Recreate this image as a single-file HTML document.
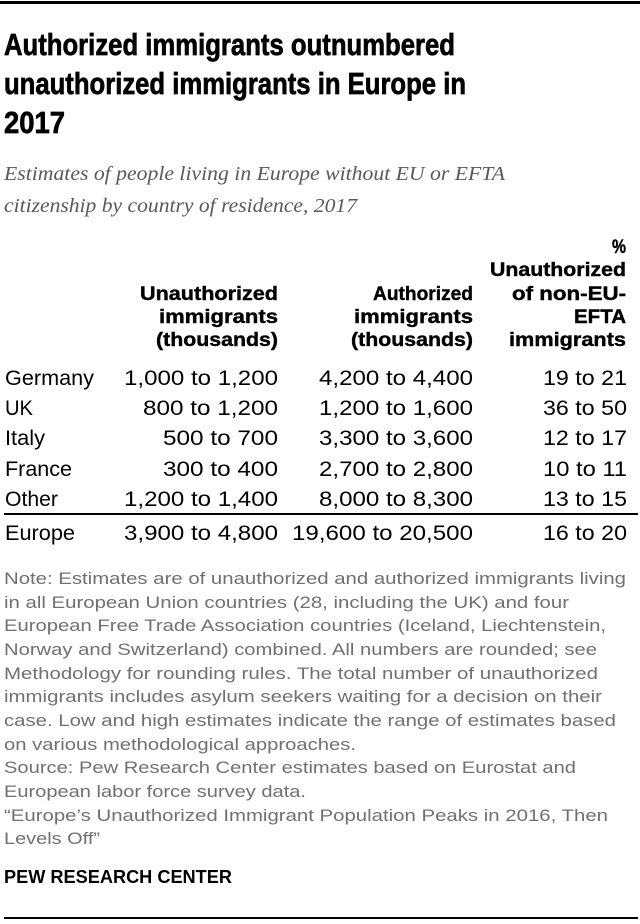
<!DOCTYPE html>
<html><head><meta charset="utf-8"><style>
html,body{margin:0;padding:0;background:#fff;}
svg{display:block;}
.t{font-family:"Liberation Sans",sans-serif;font-weight:bold;font-size:31px;fill:#000;stroke:#000;stroke-width:0.7;}
.s{font-family:"Liberation Serif",serif;font-style:italic;font-size:20px;fill:#595959;}
.h{font-family:"Liberation Sans",sans-serif;font-weight:bold;font-size:19px;fill:#000;stroke:#000;stroke-width:0.4;}
.d{font-family:"Liberation Sans",sans-serif;font-size:21px;fill:#000;}
.n{font-family:"Liberation Sans",sans-serif;font-size:17px;fill:#707070;}
.p{font-family:"Liberation Sans",sans-serif;font-weight:bold;font-size:18px;fill:#000;}
</style></head><body>
<svg width="640" height="924" viewBox="0 0 640 924" xmlns="http://www.w3.org/2000/svg">
<rect x="0" y="1" width="640" height="3" fill="#000"/>
<text class="t" x="4" y="55" textLength="451" lengthAdjust="spacingAndGlyphs">Authorized immigrants outnumbered</text>
<text class="t" x="4" y="94" textLength="462" lengthAdjust="spacingAndGlyphs">unauthorized immigrants in Europe in</text>
<text class="t" x="4" y="133" textLength="61" lengthAdjust="spacingAndGlyphs">2017</text>
<text class="s" x="4" y="180" textLength="501" lengthAdjust="spacingAndGlyphs">Estimates of people living in Europe without EU or EFTA</text>
<text class="s" x="4" y="212" textLength="353" lengthAdjust="spacingAndGlyphs">citizenship by country of residence, 2017</text>

<g class="h" text-anchor="end">
<text x="626" y="253" textLength="14" lengthAdjust="spacingAndGlyphs">%</text>
<text x="626" y="276" textLength="136" lengthAdjust="spacingAndGlyphs">Unauthorized</text>
<text x="626" y="300" textLength="114" lengthAdjust="spacingAndGlyphs">of non-EU-</text>
<text x="626" y="323" textLength="52" lengthAdjust="spacingAndGlyphs">EFTA</text>
<text x="626" y="346" textLength="117" lengthAdjust="spacingAndGlyphs">immigrants</text>
<text x="278" y="300" textLength="138" lengthAdjust="spacingAndGlyphs">Unauthorized</text>
<text x="278" y="323" textLength="119" lengthAdjust="spacingAndGlyphs">immigrants</text>
<text x="278" y="346" textLength="122" lengthAdjust="spacingAndGlyphs">(thousands)</text>
<text x="473" y="300" textLength="100" lengthAdjust="spacingAndGlyphs">Authorized</text>
<text x="473" y="323" textLength="119" lengthAdjust="spacingAndGlyphs">immigrants</text>
<text x="473" y="346" textLength="122" lengthAdjust="spacingAndGlyphs">(thousands)</text>
</g>

<g class="d">
<text x="5" y="385" textLength="89" lengthAdjust="spacingAndGlyphs">Germany</text>
<text x="5" y="415" textLength="28" lengthAdjust="spacingAndGlyphs">UK</text>
<text x="5" y="445" textLength="40" lengthAdjust="spacingAndGlyphs">Italy</text>
<text x="5" y="476" textLength="67" lengthAdjust="spacingAndGlyphs">France</text>
<text x="5" y="506" textLength="53" lengthAdjust="spacingAndGlyphs">Other</text>
<text x="5" y="540" textLength="70" lengthAdjust="spacingAndGlyphs">Europe</text>
</g>
<g class="d" text-anchor="end">
<text x="278" y="385" textLength="154" lengthAdjust="spacingAndGlyphs">1,000 to 1,200</text>
<text x="278" y="415" textLength="135" lengthAdjust="spacingAndGlyphs">800 to 1,200</text>
<text x="278" y="445" textLength="115" lengthAdjust="spacingAndGlyphs">500 to 700</text>
<text x="278" y="476" textLength="115" lengthAdjust="spacingAndGlyphs">300 to 400</text>
<text x="278" y="506" textLength="154" lengthAdjust="spacingAndGlyphs">1,200 to 1,400</text>
<text x="278" y="540" textLength="154" lengthAdjust="spacingAndGlyphs">3,900 to 4,800</text>
<text x="473" y="385" textLength="154" lengthAdjust="spacingAndGlyphs">4,200 to 4,400</text>
<text x="473" y="415" textLength="154" lengthAdjust="spacingAndGlyphs">1,200 to 1,600</text>
<text x="473" y="445" textLength="154" lengthAdjust="spacingAndGlyphs">3,300 to 3,600</text>
<text x="473" y="476" textLength="154" lengthAdjust="spacingAndGlyphs">2,700 to 2,800</text>
<text x="473" y="506" textLength="154" lengthAdjust="spacingAndGlyphs">8,000 to 8,300</text>
<text x="473" y="540" textLength="181" lengthAdjust="spacingAndGlyphs">19,600 to 20,500</text>
<text x="627" y="385" textLength="84" lengthAdjust="spacingAndGlyphs">19 to 21</text>
<text x="627" y="415" textLength="84" lengthAdjust="spacingAndGlyphs">36 to 50</text>
<text x="627" y="445" textLength="84" lengthAdjust="spacingAndGlyphs">12 to 17</text>
<text x="627" y="476" textLength="84" lengthAdjust="spacingAndGlyphs">10 to 11</text>
<text x="627" y="506" textLength="84" lengthAdjust="spacingAndGlyphs">13 to 15</text>
<text x="627" y="540" textLength="84" lengthAdjust="spacingAndGlyphs">16 to 20</text>
</g>
<rect x="4" y="513" width="634" height="2" fill="#000"/>

<g class="n">
<text x="4" y="584" textLength="622" lengthAdjust="spacingAndGlyphs">Note: Estimates are of unauthorized and authorized immigrants living</text>
<text x="4" y="608" textLength="565" lengthAdjust="spacingAndGlyphs">in all European Union countries (28, including the UK) and four</text>
<text x="4" y="631" textLength="602" lengthAdjust="spacingAndGlyphs">European Free Trade Association countries (Iceland, Liechtenstein,</text>
<text x="4" y="655" textLength="593" lengthAdjust="spacingAndGlyphs">Norway and Switzerland) combined. All numbers are rounded; see</text>
<text x="4" y="679" textLength="594" lengthAdjust="spacingAndGlyphs">Methodology for rounding rules. The total number of unauthorized</text>
<text x="4" y="702" textLength="598" lengthAdjust="spacingAndGlyphs">immigrants includes asylum seekers waiting for a decision on their</text>
<text x="4" y="726" textLength="612" lengthAdjust="spacingAndGlyphs">case. Low and high estimates indicate the range of estimates based</text>
<text x="4" y="750" textLength="352" lengthAdjust="spacingAndGlyphs">on various methodological approaches.</text>
<text x="4" y="773" textLength="572" lengthAdjust="spacingAndGlyphs">Source: Pew Research Center estimates based on Eurostat and</text>
<text x="4" y="797" textLength="302" lengthAdjust="spacingAndGlyphs">European labor force survey data.</text>
<text x="4" y="821" textLength="604" lengthAdjust="spacingAndGlyphs">“Europe’s Unauthorized Immigrant Population Peaks in 2016, Then</text>
<text x="4" y="844" textLength="96" lengthAdjust="spacingAndGlyphs">Levels Off”</text>
</g>
<text class="p" x="4" y="883" textLength="228" lengthAdjust="spacingAndGlyphs">PEW RESEARCH CENTER</text>
<rect x="4" y="917" width="634" height="2" fill="#000"/>
</svg>
</body></html>
